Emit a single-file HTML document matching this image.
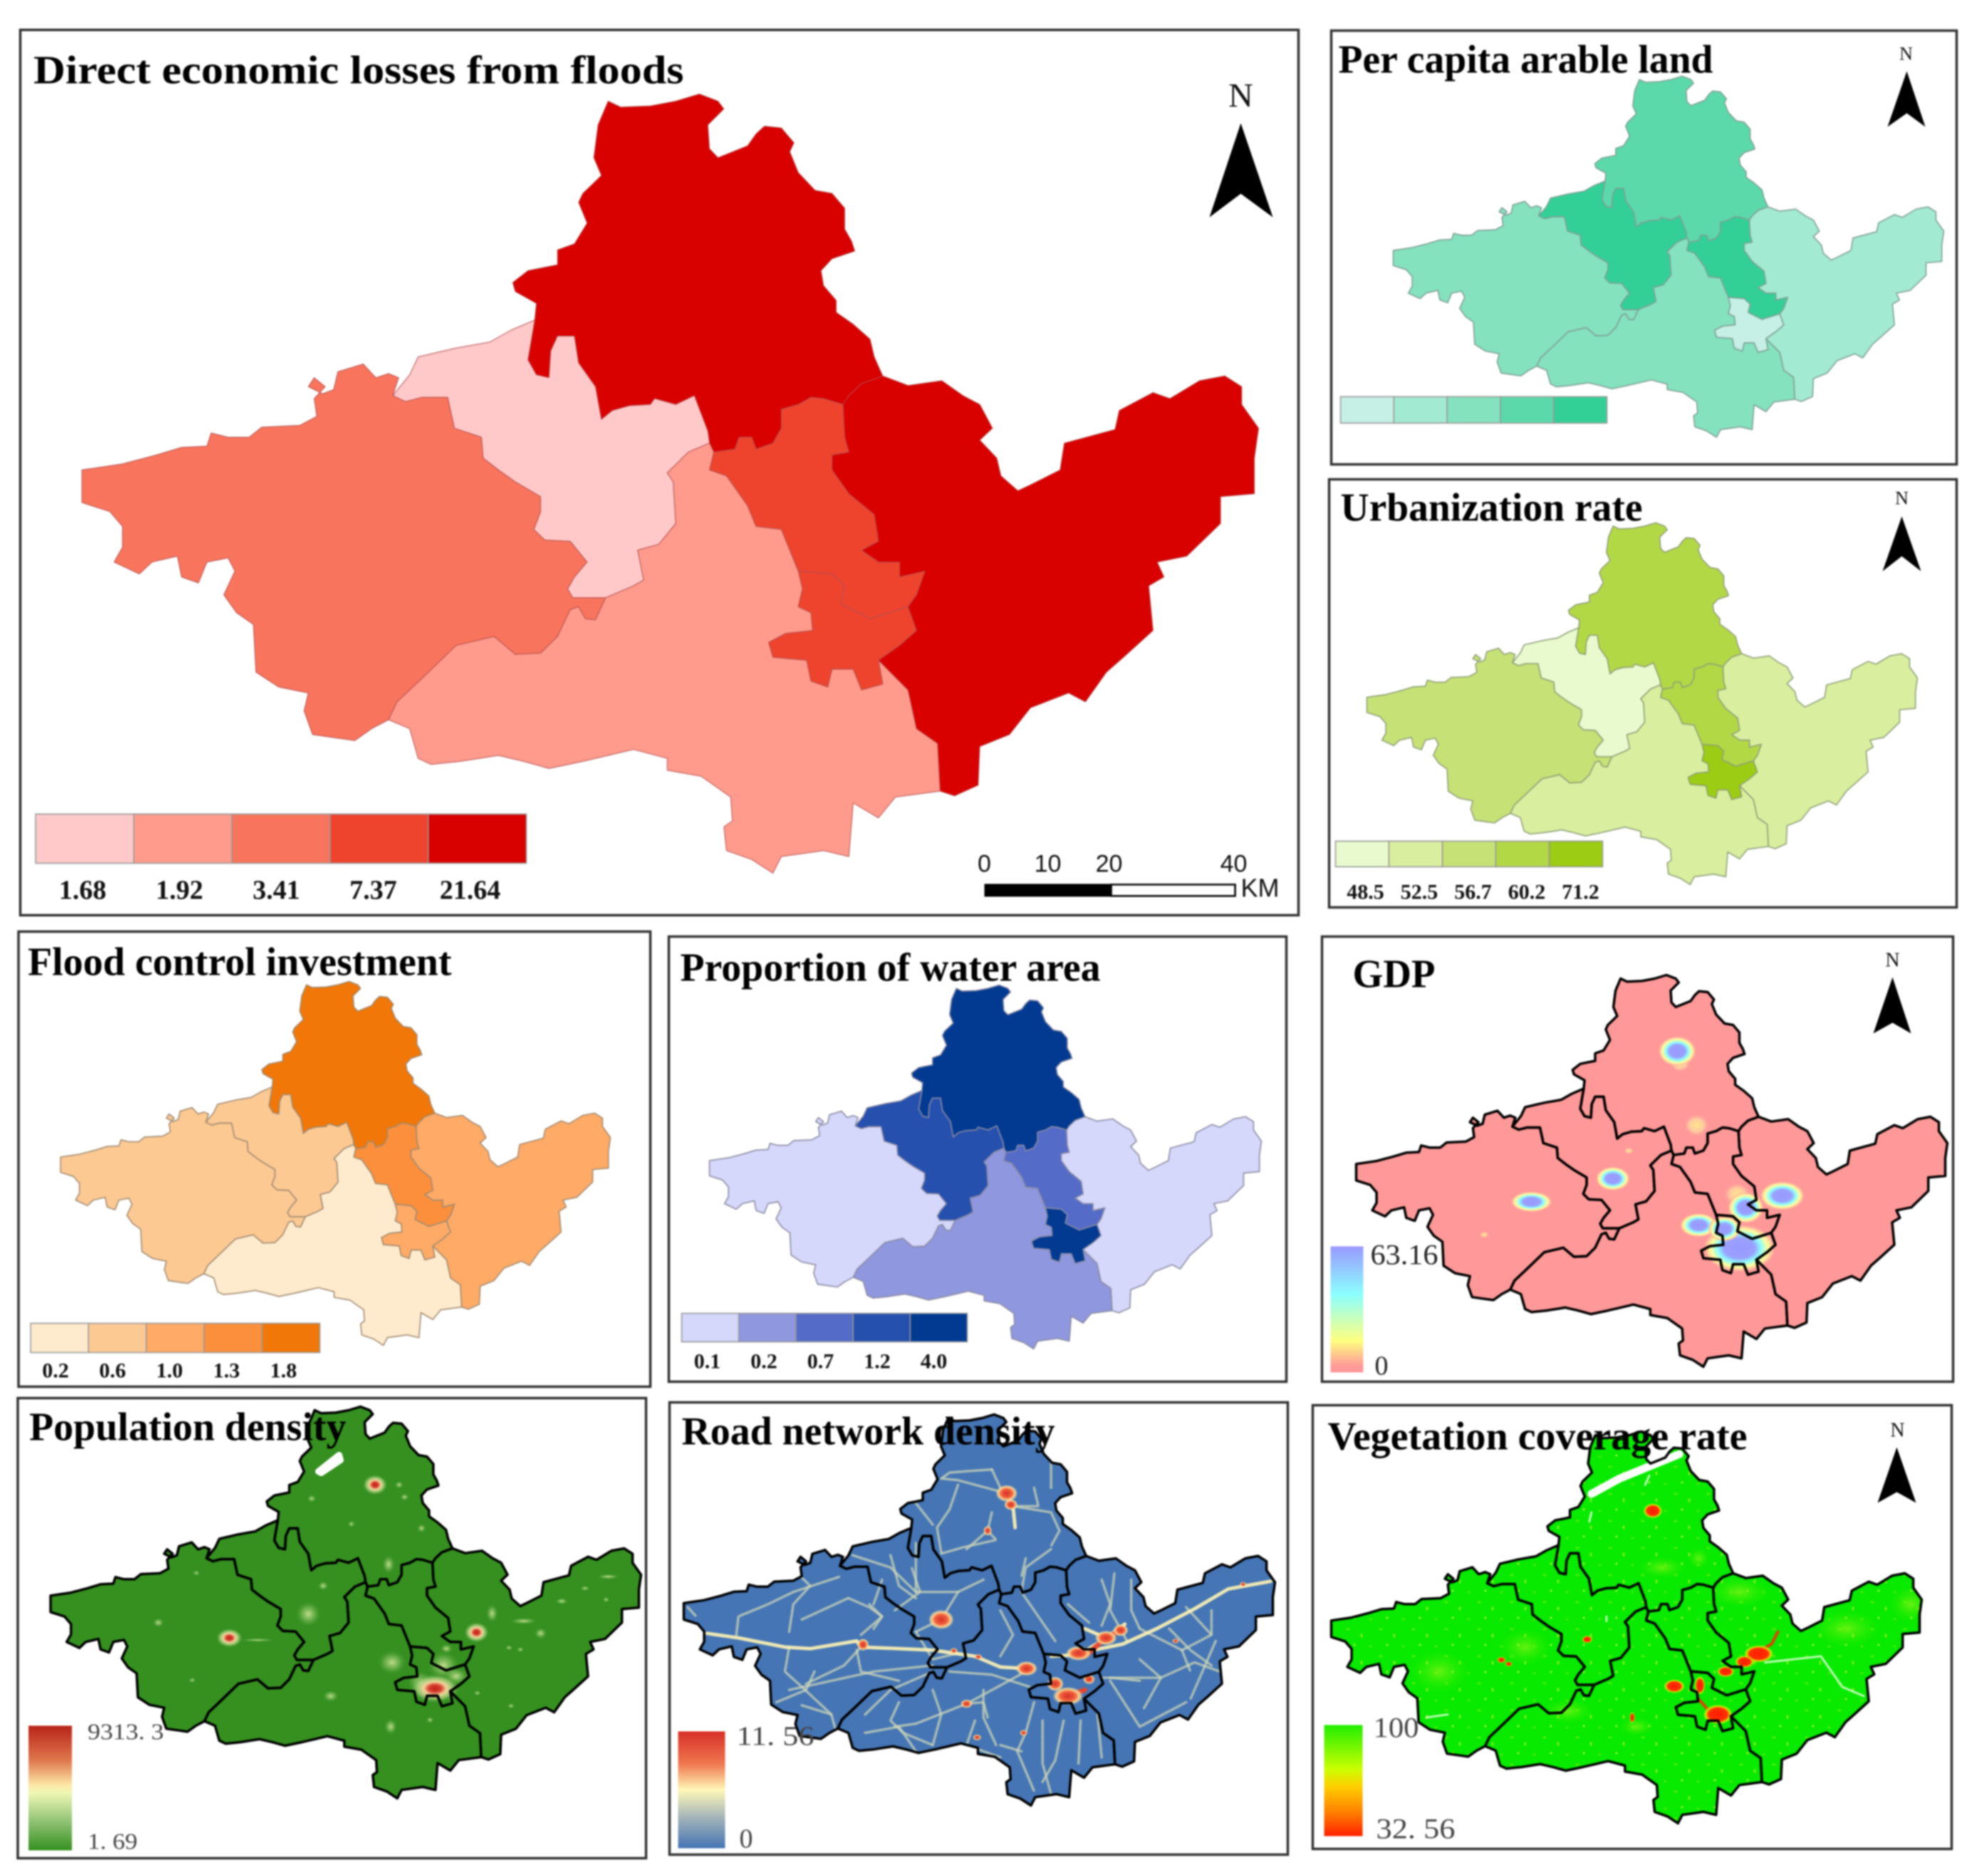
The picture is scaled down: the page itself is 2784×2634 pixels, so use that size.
<!DOCTYPE html>
<html lang="en">
<head>
<meta charset="utf-8">
<title>Flood loss factor maps</title>
<style>
html,body{margin:0;padding:0;background:#fff}
svg{display:block;filter:blur(1px)}
text{font-family:"Liberation Serif",serif}
.ttl{font-weight:bold;font-size:56px;fill:#000}
.lbl{font-weight:bold;fill:#111}
.n{fill:#111;text-anchor:middle}
.bar{fill:#444}
.sc{font-family:"Liberation Sans",sans-serif;font-size:34px;fill:#111;text-anchor:middle}
</style>
</head>
<body>
<svg id="fig" xmlns="http://www.w3.org/2000/svg" width="2784" height="2634" viewBox="0 0 2784 2634">
<defs>
<radialGradient id="gGdp"><stop offset="0" stop-color="#9999ff"/><stop offset=".42" stop-color="#9aa0ff"/><stop offset=".6" stop-color="#8cffff"/><stop offset=".78" stop-color="#ffff99"/><stop offset=".9" stop-color="#ffc8a0"/><stop offset="1" stop-color="#ff9999" stop-opacity="0"/></radialGradient>
<radialGradient id="gGdpWarm"><stop offset="0" stop-color="#ffe68c"/><stop offset=".6" stop-color="#ffc8a0"/><stop offset="1" stop-color="#ff9999" stop-opacity="0"/></radialGradient>
<radialGradient id="gPopHot"><stop offset="0" stop-color="#c02018"/><stop offset=".25" stop-color="#d84030"/><stop offset=".45" stop-color="#f4d59a"/><stop offset=".7" stop-color="#a8d080" stop-opacity=".8"/><stop offset="1" stop-color="#359020" stop-opacity="0"/></radialGradient>
<radialGradient id="gPopWarm"><stop offset="0" stop-color="#dcecA0" stop-opacity=".85"/><stop offset=".5" stop-color="#8cc468" stop-opacity=".55"/><stop offset="1" stop-color="#359020" stop-opacity="0"/></radialGradient>
<radialGradient id="gRoadHot"><stop offset="0" stop-color="#d73027"/><stop offset=".5" stop-color="#f0603c"/><stop offset=".75" stop-color="#fdd28c"/><stop offset="1" stop-color="#ffffbf" stop-opacity="0"/></radialGradient>
<radialGradient id="gVegHot"><stop offset="0" stop-color="#ff1c00"/><stop offset=".65" stop-color="#ff3000"/><stop offset=".85" stop-color="#d8f000"/><stop offset="1" stop-color="#a0ff00" stop-opacity="0"/></radialGradient>
<radialGradient id="gVegWarm"><stop offset="0" stop-color="#b4f820" stop-opacity=".55"/><stop offset="1" stop-color="#40f000" stop-opacity="0"/></radialGradient>
<pattern id="vegSpeckle" width="46" height="38" patternUnits="userSpaceOnUse"><rect x="4" y="6" width="5" height="3" fill="#48ee08"/><rect x="24" y="14" width="3" height="5" fill="#70f018"/><rect x="36" y="30" width="4" height="3" fill="#40ec08"/><rect x="14" y="28" width="3" height="3" fill="#88f230"/></pattern>
<linearGradient id="cbGdp" x1="0" y1="0" x2="0" y2="1"><stop offset="0" stop-color="#9999ff"/><stop offset=".38" stop-color="#8cffff"/><stop offset=".75" stop-color="#ffff80"/><stop offset=".95" stop-color="#ff9999"/></linearGradient>
<linearGradient id="cbPop" x1="0" y1="0" x2="0" y2="1"><stop offset="0" stop-color="#b82318"/><stop offset=".28" stop-color="#e0784e"/><stop offset=".48" stop-color="#fde9a8"/><stop offset=".54" stop-color="#eef7b4"/><stop offset=".78" stop-color="#8cc070"/><stop offset="1" stop-color="#359020"/></linearGradient>
<linearGradient id="cbRoad" x1="0" y1="0" x2="0" y2="1"><stop offset="0" stop-color="#d73027"/><stop offset=".28" stop-color="#f07850"/><stop offset=".5" stop-color="#fff8b8"/><stop offset=".75" stop-color="#9fb0b8"/><stop offset="1" stop-color="#4575b4"/></linearGradient>
<linearGradient id="cbVeg" x1="0" y1="0" x2="0" y2="1"><stop offset="0" stop-color="#22ee00"/><stop offset=".4" stop-color="#ccff00"/><stop offset=".55" stop-color="#ffd000"/><stop offset=".8" stop-color="#ff7a00"/><stop offset="1" stop-color="#ff2000"/></linearGradient>
</defs>

<rect width="2784" height="2634" fill="#fff"/>
<g id="maps"></g>

<g fill="none" stroke="#333" stroke-width="3.5">
<rect x="28.5" y="42" width="1794.5" height="1243"/>
<rect x="1869" y="43" width="878" height="609"/>
<rect x="1866" y="673" width="881" height="601"/>
<rect x="26" y="1308" width="887" height="639"/>
<rect x="939" y="1315" width="867" height="625"/>
<rect x="1856" y="1315" width="886" height="625"/>
<rect x="25" y="1963" width="882" height="646"/>
<rect x="940" y="1969" width="868" height="635"/>
<rect x="1843" y="1973" width="897" height="623"/>
</g>

<!-- continuous colour bars -->
<rect x="1868" y="1750" width="46" height="177" fill="url(#cbGdp)"/>
<rect x="40" y="2423" width="61" height="175" fill="url(#cbPop)"/>
<rect x="952" y="2431" width="66" height="164" fill="url(#cbRoad)"/>
<rect x="1859" y="2422" width="54" height="156" fill="url(#cbVeg)"/>

<text class="bar" x="1924" y="1775" font-size="40" textLength="95" lengthAdjust="spacingAndGlyphs" style="fill:#222">63.16</text>
<text class="bar" x="1930" y="1930" font-size="38" style="fill:#222">0</text>
<text class="bar" x="123" y="2442" font-size="32" textLength="107" lengthAdjust="spacingAndGlyphs" xml:space="preserve">9313. 3</text>
<text class="bar" x="123" y="2596" font-size="32" textLength="70" lengthAdjust="spacingAndGlyphs" xml:space="preserve">1. 69</text>
<text class="bar" x="1034" y="2450" font-size="38" textLength="109" lengthAdjust="spacingAndGlyphs" xml:space="preserve">11. 56</text>
<text class="bar" x="1038" y="2594" font-size="38">0</text>
<text class="bar" x="1928" y="2439" font-size="40" textLength="64" lengthAdjust="spacingAndGlyphs">100</text>
<text class="bar" x="1932" y="2581" font-size="40" textLength="111" lengthAdjust="spacingAndGlyphs" xml:space="preserve">32. 56</text>

<!-- titles -->
<text class="ttl" x="47" y="117" textLength="913" lengthAdjust="spacingAndGlyphs">Direct economic losses from floods</text>
<text class="ttl" x="1879" y="102" textLength="526" lengthAdjust="spacingAndGlyphs">Per capita arable land</text>
<text class="ttl" x="1882" y="731" textLength="424" lengthAdjust="spacingAndGlyphs">Urbanization rate</text>
<text class="ttl" x="39" y="1369" textLength="595" lengthAdjust="spacingAndGlyphs">Flood control investment</text>
<text class="ttl" x="955" y="1377" textLength="590" lengthAdjust="spacingAndGlyphs">Proportion of water area</text>
<text class="ttl" x="1899" y="1386" textLength="116" lengthAdjust="spacingAndGlyphs">GDP</text>
<text class="ttl" x="41" y="2022" textLength="445" lengthAdjust="spacingAndGlyphs">Population density</text>
<text class="ttl" x="957" y="2028" textLength="524" lengthAdjust="spacingAndGlyphs">Road network density</text>
<text class="ttl" x="1864" y="2035" textLength="589" lengthAdjust="spacingAndGlyphs">Vegetation coverage rate</text>

<!-- north arrows -->
<text class="n" x="1742" y="150" font-size="48">N</text>
<polygon points="1742,173 1787,305 1742,272 1698,305" fill="#000"/>
<text class="n" x="2676" y="84" font-size="26">N</text>
<polygon points="2677,100 2703,178 2677,159 2650,178" fill="#000"/>
<text class="n" x="2670" y="708" font-size="26">N</text>
<polygon points="2670,725 2697,802 2670,781 2643,802" fill="#000"/>
<text class="n" x="2657" y="1357" font-size="28">N</text>
<polygon points="2657,1372 2683,1451 2657,1436 2630,1451" fill="#000"/>
<text class="n" x="2664" y="2017" font-size="28">N</text>
<polygon points="2663,2032 2690,2110 2663,2095 2636,2110" fill="#000"/>

<!-- scale bar -->
<g>
<text class="sc" x="1382" y="1224">0</text>
<text class="sc" x="1471" y="1224">10</text>
<text class="sc" x="1557" y="1224">20</text>
<text class="sc" x="1732" y="1224">40</text>
<rect x="1382" y="1241" width="178" height="18" fill="#000"/>
<rect x="1560" y="1242" width="174" height="16" fill="#fff" stroke="#000" stroke-width="2.5"/>
<text class="sc" x="1769" y="1259" style="font-size:36px">KM</text>
</g>
<g id="legends"></g>
</svg>

<script>
// ---- Map data: class breaks and per-district values ----
// District order: north, central-west, west, south, corridor, core, east
const lossBreaks = [1.68, 1.92, 3.41, 7.37, 21.64];
const lossValues = [21.64, 1.68, 3.41, 1.92, 7.37, 7.37, 21.64];
const arableBreaks = [1, 2, 3, 4, 5];
const arableValues = [4, 5, 3, 3, 5, 1, 2];
const urbanBreaks = [48.5, 52.5, 56.7, 60.2, 71.2];
const urbanValues = [60.2, 48.5, 56.7, 52.5, 60.2, 71.2, 52.5];
const investBreaks = [0.2, 0.6, 1.0, 1.3, 1.8];
const investValues = [1.8, 0.6, 0.6, 0.2, 1.3, 1.0, 1.0];
const waterBreaks = [0.1, 0.2, 0.7, 1.2, 4.0];
const waterValues = [4.0, 1.2, 0.1, 0.2, 0.7, 4.0, 0.1];

// Raster hot spots: [x, y, rx, ry]
const gdpHigh = [[855,418,44,50],[705,843,40,40],[515,920,48,34],[1100,900,52,48],[1015,940,42,52],[905,998,44,40],[1000,1075,85,80],[965,1010,38,42]];
const gdpWarm = [[862,458,24,30],[900,665,30,38],[742,750,11,11],[405,1030,11,11],[995,895,32,38]];
const popHigh = [[888,290,30,34],[543,790,32,32],[1128,772,30,34],[1030,955,60,48]];
const popWarm = [[730,712,32,44],[928,870,36,42],[1165,710,15,32],[783,980,20,20],[925,1080,16,28],[1280,775,16,20],[1057,825,16,16],[375,740,14,16],[920,550,16,32],[765,620,13,16],[995,935,32,38],[945,290,11,13],[738,335,11,13],[958,330,11,13],[998,432,11,15],[832,418,9,11],[465,578,9,9],[455,928,9,9],[1205,822,9,9],[1232,828,9,9],[1130,970,9,9],[1210,1012,9,9],[1018,1058,9,11],[1385,628,12,9],[1435,665,9,9],[1440,590,28,9],[1330,670,16,11],[1240,735,34,11],[610,797,44,6],[1050,880,40,50],[1080,915,30,30]];
const roadHot = [[815,318,26,28],[825,355,16,18],[660,730,30,32],[475,812,14,20],[862,890,26,24],[985,840,30,24],[1050,790,26,24],[1085,765,18,20],[960,980,36,30],[930,940,20,24],[1010,925,14,16],[855,1100,9,10],[720,1005,14,14],[745,1115,10,10],[690,832,9,9],[748,852,9,9],[770,440,10,16],[1215,800,8,8],[1375,615,8,8]];
const vegHigh = [[798,375,22,24],[1045,842,34,28],[1012,868,22,20],[968,900,20,18],[848,948,24,22],[950,1040,34,32],[908,945,12,30],[645,795,12,12],[445,862,10,10],[462,875,8,8],[750,1050,6,18]];
const vegWarm = [[820,560,55,35],[905,530,25,35],[760,1080,40,30],[1000,640,70,50],[500,820,60,60],[1250,760,80,60],[1400,680,50,60],[300,900,70,70],[600,1030,60,40]];

// Road traces, in panel zoom pixels
const roadMajor = [
 [[105,775],[180,790],[290,820],[350,825],[460,800],[470,820],[560,825],[640,830],[740,850],[800,885],[860,890]],
 [[1020,830],[1090,810],[1170,760],[1260,695],[1340,630],[1440,605]],
 [[815,318],[830,360],[835,430]],[[1000,760],[1050,790],[1095,745]],[[920,850],[985,845],[1040,800]]
];
const roadMinor = [
 [[780,380],[770,440],[790,470],[710,495],[660,515]],[[920,500],[860,560],[850,640]],[[815,318],[700,275],[665,270]],[[830,360],[920,380],[940,440],[920,490]],
 [[780,240],[680,250],[660,270]],[[920,200],[920,300]],[[600,770],[660,730],[700,640],[600,640],[540,560],[450,520]],
 [[300,770],[310,680],[350,620],[320,580]],[[330,730],[440,660]],[[470,820],[430,880],[340,940]],[[175,780],[180,720],[250,680],[310,640],[420,590]],
 [[300,960],[500,900],[640,880]],[[640,900],[540,960],[480,1040]],[[1040,920],[1180,920],[1260,870],[1320,900]],[[1060,930],[1130,1080],[1240,1000]],
 [[720,1005],[760,1000],[770,1050]],[[550,1080],[600,1070],[720,1005],[860,900]],[[880,1000],[860,1100],[840,1160],[880,1290]],[[950,1060],[930,1190],[900,1260]],
 [[990,1060],[985,1200]],[[680,900],[780,910],[870,950]],[[1040,600],[1060,680],[1040,750]],[[960,680],[1010,740]],[[850,640],[900,740],[930,800]],
 [[800,700],[830,780],[800,850]],[[1130,760],[1230,830],[1250,900]],[[1300,700],[1300,780],[1230,830]],[[480,1100],[560,1080],[600,1160]],[[740,1060],[720,1140],[800,1180]],
 [[330,1010],[400,1040],[410,1090]],[[60,690],[80,720]],[[550,700],[610,640],[590,560]],[[520,600],[500,680]],[[490,680],[520,720],[500,760]],
 [[300,820],[290,900],[330,950],[400,1040]],[[460,830],[470,900],[560,930]],[[360,900],[340,960],[270,1000]],[[440,660],[490,690],[520,720],[470,780]],
 [[700,290],[680,370],[650,430],[660,510]],[[780,240],[800,300]],[[600,350],[640,420]],[[880,300],[890,360],[830,360]],[[770,440],[720,500]],[[860,530],[850,590]],
 [[600,480],[600,640]],[[540,520],[560,620],[600,660]],[[700,640],[760,600]],[[600,770],[640,860],[700,840]],
 [[560,1000],[540,1060],[570,1100],[640,1140]],[[640,960],[660,1040],[640,1140]],[[760,960],[760,1050],[790,1140]],[[850,1160],[800,1140]],[[900,1060],[900,1200],[920,1300]],[[1030,1040],[1040,1180]],
 [[1100,800],[1060,700],[1070,580]],[[1110,600],[1110,700],[1130,760]],[[1200,760],[1250,830],[1300,880]],[[1130,860],[1180,920],[1140,1020]],[[1060,920],[1130,930]],[[1240,690],[1300,780]],[[1310,800],[1250,990]]
];
const vegWhite = [[[655,320],[720,270],[790,230],[860,190]]];
const vegThinWhite = [[[1060,870],[1190,850],[1240,950],[1290,980]],[[655,380],[650,410]],[[690,720],[690,735]],[[270,1050],[320,1040]],[[790,260],[780,290]]];
const vegRedLines = [[[1000,875],[1045,835],[1075,810],[1090,770]],[[905,990],[930,1030],[950,1040]]];

// ---- Shared district geometry (boundary chains in source-map pixels) ----
const a=[[633,538],[635,510],[610,490],[607,475],[625,455],[660,445],[660,420],[680,410],[695,375],[685,340],[690,325],[712,295],[703,265],[708,210],[720,170],[735,180],[770,178],[800,170],[828,158],[850,170],[857,183],[838,210],[840,250],[850,265],[885,245],[895,225],[905,212],[925,215],[940,240],[935,255],[945,290],[965,320],[985,325],[1000,350],[1000,385],[1008,405],[1012,422],[985,435],[972,455],[975,480],[990,505],[990,525],[1010,545],[1030,570],[1035,600],[1045,632]];
const b=[[1045,632],[1020,645],[1005,665],[998,680]];
const c=[[998,680],[975,670],[960,668],[945,680],[925,688],[925,720],[915,745],[895,755],[890,735],[875,735],[870,755],[845,760],[840,745]];
const d=[[840,745],[838,725],[822,665],[800,680],[775,670],[770,680],[745,682],[725,690],[712,705],[705,650],[685,610],[680,565],[660,565],[652,590],[650,635],[635,630],[625,605],[633,538]];
const e=[[633,538],[605,555],[580,575],[540,585],[495,600],[485,630],[465,665]];
const f=[[465,665],[480,675],[500,668],[530,668],[538,720],[570,735],[572,770],[590,790],[610,810],[640,835],[640,860],[632,890],[645,908],[675,910],[695,945],[680,970],[672,990],[678,1005],[717,1005]];
const g=[[717,1005],[750,985],[762,975],[755,925],[780,915],[800,880],[797,810],[790,795],[815,760],[840,745]];
const h=[[465,665],[472,635],[460,628],[445,635],[430,612],[400,625],[395,655],[382,662],[365,650],[372,635],[385,650],[372,670],[375,700],[355,715],[310,718],[295,735],[270,735],[250,728],[245,750],[215,752],[185,765],[145,780],[97,790],[97,845],[130,860],[145,885],[145,920],[135,945],[165,965],[180,945],[210,935],[215,970],[235,980],[245,945],[270,938],[278,960],[265,1000],[280,1030],[300,1050],[303,1130],[330,1155],[365,1165],[360,1195],[370,1235],[395,1240],[420,1245],[440,1225],[460,1210]];
const i_=[[460,1210],[470,1180],[500,1140],[540,1085],[585,1070],[610,1100],[640,1098],[660,1070],[675,1025],[685,1020],[693,1040],[705,1042],[717,1005]];
const j=[[460,1210],[485,1225],[495,1275],[510,1285],[545,1280],[590,1270],[620,1280],[650,1292],[690,1280],[720,1270],[750,1260],[790,1275],[790,1295],[830,1305],[865,1340],[867,1380],[857,1390],[860,1430],[890,1445],[915,1468],[925,1440],[975,1430],[1005,1440],[1010,1350],[1040,1375],[1060,1340],[1113,1330]];
const k=[[1113,1330],[1110,1250],[1085,1225],[1075,1160],[1040,1110]];
const l=[[945,960],[925,890],[895,885],[885,850],[860,800],[840,790],[845,760],[840,745]];
const m=[[1040,1110],[1045,1150],[1020,1160],[1010,1125],[985,1125],[980,1155],[960,1145],[955,1110],[915,1105],[910,1080],[930,1065],[962,1060],[960,1030],[945,1020],[950,990],[945,960]];
const n=[[998,680],[1000,735],[1005,760],[985,765],[985,790],[1005,830],[1035,865],[1040,910],[1020,925],[1040,945],[1065,945],[1065,970],[1095,960],[1085,1000],[1075,1020]];
const o=[[1075,1020],[1030,1040],[995,1015],[1000,985],[985,965],[945,960]];
const p=[[1075,1020],[1085,1060],[1065,1085],[1040,1110]];
const q=[[1045,632],[1075,648],[1115,640],[1140,665],[1160,680],[1175,720],[1160,740],[1180,770],[1185,800],[1205,825],[1220,815],[1255,790],[1260,745],[1320,722],[1325,690],[1365,660],[1385,670],[1420,640],[1450,632],[1470,650],[1470,680],[1490,720],[1485,770],[1485,830],[1445,835],[1445,880],[1405,935],[1370,945],[1378,970],[1360,985],[1365,1060],[1330,1105],[1310,1130],[1285,1180],[1265,1165],[1220,1190],[1195,1235],[1160,1255],[1158,1320],[1130,1338],[1113,1330]];
const rev = s => s.slice().reverse();
const districts = [
  ['north',[a,b,c,d]],
  ['central-west',[e,f,g,d]],
  ['west',[h,i_,rev(f)]],
  ['south',[rev(g),rev(i_),j,k,m,l]],
  ['corridor',[rev(c),n,o,l]],
  ['core',[rev(o),p,m]],
  ['east',[q,k,rev(p),rev(n),rev(b)]]
];
const SRC = [97,158,1490,1468];

const NS = 'http://www.w3.org/2000/svg';
const maps = document.getElementById('maps');
const legends = document.getElementById('legends');
function make(tag, attrs, parent){
  const el = document.createElementNS(NS, tag);
  for (const key in attrs) el.setAttribute(key, attrs[key]);
  parent.appendChild(el);
  return el;
}
function label(el, name){
  
  
  return el;
}
function pathFor(chains, box){
  const sx = (box[2]-box[0])/(SRC[2]-SRC[0]), sy = (box[3]-box[1])/(SRC[3]-SRC[1]);
  const pts = [];
  chains.forEach(ch => ch.forEach(pt => pts.push((box[0]+(pt[0]-SRC[0])*sx).toFixed(1)+' '+(box[1]+(pt[1]-SRC[1])*sy).toFixed(1))));
  return 'M'+pts.join('L')+'Z';
}
function classColor(v, breaks, colors){
  for (let t=0;t<breaks.length;t++) if (v <= breaks[t]) return colors[t];
  return colors[colors.length-1];
}
function choropleth(id, box, values, breaks, colors, stroke, width){
  const group = label(make('g',{},maps), id+'-map');
  districts.forEach((dist,idx)=>{
    const path = make('path',{d:pathFor(dist[1],box),fill:classColor(values[idx],breaks,colors),stroke:stroke,'stroke-width':width,'stroke-linejoin':'round'},group);
    label(path, id+'-district-'+dist[0]);
  });
}
function legend(id, x0, x1, y0, y1, colors, labels, lx0, lstep, ly, size){
  const w = (x1-x0)/colors.length;
  colors.forEach((col,idx)=>{
    const box = make('rect',{x:x0+idx*w,y:y0,width:w,height:y1-y0,fill:col,stroke:'#999','stroke-width':1.6},legends);
    label(box, id+'-legend-swatch-'+(idx+1));
    if (labels){
      const t = make('text',{x:lx0+idx*lstep,y:ly,'font-size':size,'text-anchor':'middle','class':'lbl'},legends);
      label(t, id+'-legend-label-'+(idx+1));
      t.textContent = labels[idx];
    }
  });
}
function raster(id, box, fill, tx, ty, sx, sy, draw){
  const group = label(make('g',{},maps), id+'-map');
  const clip = make('clipPath',{id:'clip-'+id},group);
  districts.forEach(dist=>make('path',{d:pathFor(dist[1],box)},clip));
  districts.forEach(dist=>label(make('path',{d:pathFor(dist[1],box),fill:fill},group), id+'-fill-'+dist[0]));
  const over = make('g',{'clip-path':'url(#clip-'+id+')'},group);
  const X = v => tx+v*sx, Y = v => ty+v*sy;
  const api = {
    blobs(list, grad, name){
      list.forEach(b=>label(make('ellipse',{cx:X(b[0]),cy:Y(b[1]),rx:b[2]*sx,ry:b[3]*sy,fill:'url(#'+grad+')'},over), id+'-'+name));
    },
    lines(list, color, width, opacity, name, dash){
      list.forEach(pts=>{
        const d = 'M'+pts.map(pt=>X(pt[0]).toFixed(1)+' '+Y(pt[1]).toFixed(1)).join('L');
        const path = make('path',{d:d,fill:'none',stroke:color,'stroke-width':width,opacity:opacity,'stroke-linecap':'round','stroke-linejoin':'round'},over);
        if (dash) path.setAttribute('stroke-dasharray', dash);
        label(path, id+'-'+name);
      });
    },
    rect(fillRef){ make('rect',{x:box[0]-20,y:box[1]-20,width:box[2]-box[0]+40,height:box[3]-box[1]+40,fill:fillRef},over); }
  };
  draw(api);
  districts.forEach(dist=>label(make('path',{d:pathFor(dist[1],box),fill:'none',stroke:'#000','stroke-width':3.5,'stroke-linejoin':'round'},group), id+'-boundary-'+dist[0]));
}

// ---- Choropleth panels ----
const lossColors = ['#ffc9c9','#ff9b8c','#f9745c','#ee442e','#d90000'];
const arableColors = ['#c6f0e5','#a3ead2','#84e2bf','#5cd9aa','#32d097'];
const urbanColors = ['#e9fbce','#d9ef9f','#c6e276','#b3d845','#9ccc13'];
const investColors = ['#feebcd','#fdc993','#ffaa66','#fb8f3c','#f07708'];
const waterColors = ['#d5d7fb','#8f97df','#546cc8','#2650ae','#023a92'];

choropleth('losses',[115,132,1767,1226],lossValues,lossBreaks,lossColors,'#b05050',1);
choropleth('arable',[1956,107,2729,614],arableValues,arableBreaks,arableColors,'#7f9f95',1.6);
choropleth('urbanization',[1919,734,2692,1242],urbanValues,urbanBreaks,urbanColors,'#8f9f78',1.6);
choropleth('investment',[85,1378,857,1889],investValues,investBreaks,investColors,'#a08a70',1.6);
choropleth('water',[996,1383,1771,1894],waterValues,waterBreaks,waterColors,'#8a8aa0',1.6);

legend('losses',50,739,1143,1212,lossColors,lossBreaks.map(v=>v.toFixed(2)),116,136,1262,38);
legend('arable',1882,2256,557,594,arableColors,null);
legend('urbanization',1875,2250,1181,1217,urbanColors,urbanBreaks.map(v=>v.toFixed(1)),1917,75.5,1262,30);
legend('investment',43,449,1858,1899,investColors,investBreaks.map(v=>v.toFixed(1)),78,80,1934,30);
legend('water',957,1358,1844,1884,waterColors,waterBreaks.map(v=>v.toFixed(1)),993,79.5,1921,30);

// ---- Raster panels ----
raster('gdp',[1904,1369,2734,1919],'#ff9999',1840,1300,0.602,0.421,api=>{
  api.blobs(gdpWarm,'gGdpWarm','warm-spot');
  api.blobs(gdpHigh,'gGdp','high-spot');
});
raster('population',[71,1975,900,2525],'#359020',0,1960,0.593,0.43,api=>{
  api.blobs(popWarm,'gPopWarm','warm-spot');
  api.blobs(popHigh,'gPopHot','high-spot');
  label(make('path',{d:'M447 2066L476 2043L478 2050L451 2068Z',fill:'#fff',stroke:'#fff','stroke-width':9,'stroke-linejoin':'round'},maps.lastChild.querySelector('g')),'population-no-data-patch');
});
raster('road',[960,1986,1790,2535],'#4575b4',930,1960,0.593,0.43,api=>{
  api.lines(roadMinor,'#cfd8b8',3.5,.72,'minor-road','7 2');
  api.lines(roadMajor,'#fff4b4',5,.9,'major-road');
  api.lines([[[1000,850],[1050,790],[1090,762]],[[950,985],[1000,960]]],'#e8452c',7,.95,'urban-road');
  api.blobs(roadHot,'gRoadHot','hot-spot');
});
raster('vegetation',[1869,2010,2698,2560],'#08ea00',1840,1960,0.602,0.43,api=>{
  api.rect('url(#vegSpeckle)');
  api.blobs(vegWarm,'gVegWarm','light-area');
  api.lines(vegWhite,'#ffffff',11,1,'no-data-streak');
  api.lines(vegThinWhite,'#e8ffe0',3,.8,'sparse-line');
  api.lines(vegRedLines,'#ff2a00',4,.9,'urban-line');
  api.blobs(vegHigh,'gVegHot','urban-spot');
});
</script>
</body>
</html>
